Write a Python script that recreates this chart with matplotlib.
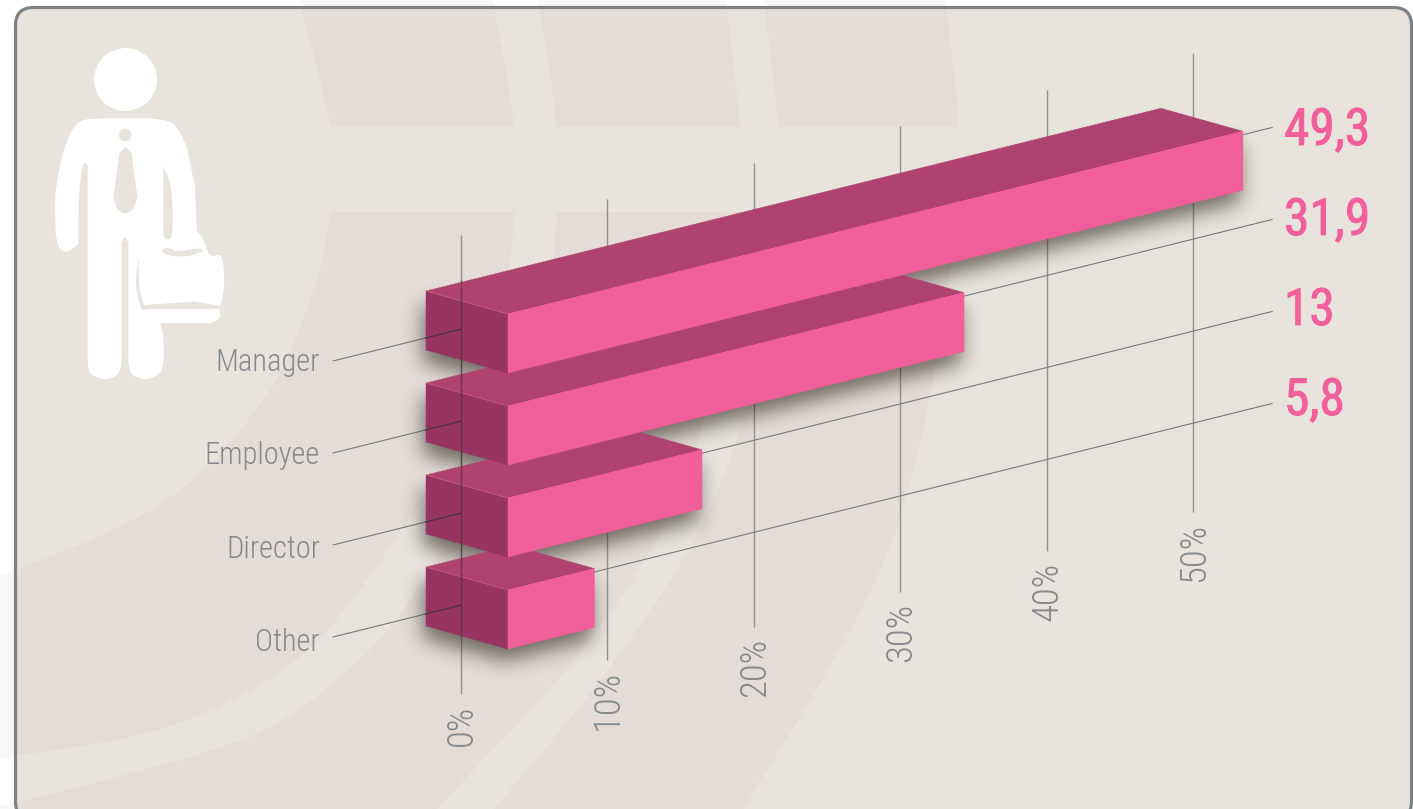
import numpy as np
import matplotlib
matplotlib.use('Agg')
import matplotlib.pyplot as plt
import matplotlib.patheffects as pe
from matplotlib import font_manager
from matplotlib.patches import Polygon, Circle, FancyBboxPatch, Rectangle
from matplotlib.path import Path

categories = ['Manager', 'Employee', 'Director', 'Other']
value_labels = ['49,3', '31,9', '13', '5,8']
# bar lengths as read against the gridlines
bar_lengths = [50.2, 31.15, 13.25, 5.9]
tick_values = [0, 10, 20, 30, 40, 50]
tick_labels = ['0%', '10%', '20%', '30%', '40%', '50%']
grid_bottoms = [694, 660, 627, 592, 551, 512]

PANEL = '#E8E3DD'
PATTERN = '#E4DDD7'
OUTER_PATTERN = '#F9F8F6'
GREY = '#85898C'
PINK = '#F2609C'
FRONT = '#F05F99'
TOP = '#B04270'
SIDE = '#97345F'

installed = {f.name for f in font_manager.fontManager.ttflist}
for name in ['Roboto Condensed', 'Archivo Narrow', 'Roboto']:
    if name in installed:
        plt.rcParams['font.family'] = [name, 'DejaVu Sans']
        break

fig = plt.figure(figsize=(14.13, 8.09), dpi=100, facecolor='white')
ax = fig.add_axes([0, 0, 1, 1])


# oblique projection: pct along the bar, row down the chart,
# depth 0 front/1 back, drop 0 top/1 bottom of the bar
def project(pct, row, depth=0.0, drop=0.0):
    x = 508 + 14.64 * pct - 82 * depth
    y = 314 - 3.64 * pct + 92 * row - 23 * depth + 59 * drop
    return x, y


def smooth(points, n=14, run=120):
    # catmull-rom through the control points, only for the background and icon
    p = [np.array(points[0], dtype=float)]
    for q in points[1:]:
        q = np.array(q, dtype=float)
        # long straight runs get extra points so the corners do not overshoot
        if np.hypot(*(q - p[-1])) > run:
            a = p[-1]
            p += [a + (q - a) * 0.1, a + (q - a) * 0.9]
        p.append(q)
    p = np.array(p)
    p = np.vstack([p[0], p, p[-1]])
    out = []
    for i in range(1, len(p) - 2):
        for t in np.linspace(0, 1, n, endpoint=False):
            out.append(0.5 * (2 * p[i] + (p[i + 1] - p[i - 1]) * t
                              + (2 * p[i - 1] - 5 * p[i] + 4 * p[i + 1] - p[i + 2]) * t ** 2
                              + (3 * p[i] - p[i - 1] - 3 * p[i + 1] + p[i + 2]) * t ** 3))
    out.append(p[-1])
    return np.array(out)


def curve(points):
    return smooth(points, run=1e9)


# background sphere pattern
sphere_left = [(298, -5), (330, 127), (330, 212), (310, 300), (263, 400), (167, 500), (17, 570), (-30, 580)]
sphere_right = [(945, -5), (959, 127), (959, 212), (895, 533), (744, 809), (725, 840)]
stripe_a_1 = [(492, -5), (514, 127), (514, 212), (505, 290), (470, 420), (400, 533), (300, 657), (167, 727),
              (17, 755), (-30, 758)]
stripe_a_2 = [(537, -5), (557, 127), (557, 212), (547, 300), (510, 430), (410, 600), (333, 683), (233, 743),
              (17, 802), (-30, 810)]
stripe_b_1 = [(725, -5), (740, 127), (740, 212), (725, 340), (670, 513), (574, 660), (436, 809), (405, 840)]
stripe_b_2 = [(763, -5), (778, 127), (778, 212), (765, 340), (708, 513), (610, 667), (494, 809), (465, 840)]


def draw_pattern(dark, light, clip=None):
    shapes = [Polygon(np.vstack([curve(sphere_left), [(-30, 840)], curve(sphere_right)[::-1]]), fc=dark, ec='none')]
    for a, b in [(stripe_a_1, stripe_a_2), (stripe_b_1, stripe_b_2)]:
        shapes.append(Polygon(np.vstack([curve(a), curve(b)[::-1]]), fc=light, ec='none'))
    shapes.append(Rectangle((0, 127), 1413, 85, fc=light, ec='none'))
    for s in shapes:
        ax.add_patch(s)
        s.set_zorder(1 if clip is None else 3)
        if clip is not None:
            s.set_clip_path(clip)


draw_pattern(OUTER_PATTERN, 'white')
panel = FancyBboxPatch((15.5, 7.5), 1396, 812, boxstyle='round,pad=0,rounding_size=18',
                       fc=PANEL, ec='none', zorder=2)
ax.add_patch(panel)
draw_pattern(PATTERN, PANEL, clip=panel)
# nearly invisible fill: agg bends an unfilled curve that runs off the canvas
ax.add_patch(FancyBboxPatch((15.5, 7.5), 1396, 812, boxstyle='round,pad=0,rounding_size=18',
                            fc=(1, 1, 1, 0.001), ec='#7E8285', lw=2.3, zorder=4))

# person icon, traced at 3x
body = [(300, 355), (235, 368), (195, 440), (172, 540), (165, 620), (172, 730), (200, 755), (235, 730), (236, 600),
        (247, 500), (263, 498), (263, 1080), (272, 1120), (315, 1137), (355, 1120), (365, 1080), (365, 730), (375, 712),
        (385, 730), (385, 1080), (395, 1120), (435, 1137), (478, 1120), (490, 1080), (490, 1010), (482, 970), (630, 970),
        (658, 955), (660, 925), (672, 860), (665, 772), (630, 765), (610, 720), (590, 690), (585, 560), (560, 440),
        (520, 372), (450, 355), (300, 355)]
tie = [(376, 441), (395, 460), (412, 590), (400, 625), (376, 640), (352, 625), (340, 590), (358, 460), (376, 441)]
arm_gap = [(490, 500), (510, 550), (517, 620), (516, 700), (503, 718), (490, 705), (490, 500)]
handle_gap = [(490, 745), (510, 745), (530, 753), (575, 748), (600, 746), (607, 754), (565, 768), (520, 768), (490, 758),
              (490, 745)]
case_gap = [(416, 775), (408, 850), (425, 927), (660, 927), (660, 918), (580, 905), (432, 915), (418, 860), (416, 775)]

ax.add_patch(Circle((125.5, 79.5), 31.5, fc='white', ec='none', zorder=5))
ax.add_patch(Polygon(smooth(body) / 3, fc='white', ec='none', zorder=5))
for gap in [tie, arm_gap, handle_gap, case_gap]:
    ax.add_patch(Polygon(smooth(gap) / 3, fc=PANEL, ec='none', zorder=6))
ax.add_patch(Circle((125.3, 135), 6.3, fc=PANEL, ec='none', zorder=6))

# gridlines and category lines run through the middle of the bars
MID_DEPTH = 0.573
MID_DROP = 0.48
for tv, tl, bottom in zip(tick_values, tick_labels, grid_bottoms):
    x1, y1 = project(tv, -1.02, MID_DEPTH, MID_DROP)
    ax.plot([x1, x1], [y1, bottom], color='#8F9090', lw=1, solid_capstyle='butt', zorder=7)
    if tv == 0:
        # this one sits over the bars
        xa, ya = project(tv, -0.53, MID_DEPTH, MID_DROP)
        xb, yb = project(tv, 3.32, MID_DEPTH, MID_DROP)
        ax.plot([xa, xb], [ya, yb], color='#3C3438', lw=1, alpha=0.55, solid_capstyle='butt', zorder=12)
    ax.text(x1 + 1, bottom + 11, tl, rotation=90, ha='center', va='top', color=GREY, fontsize=26.5, fontweight=300, zorder=13)

for i, cat in enumerate(categories):
    x1, y1 = project(-8.74, i, MID_DEPTH, MID_DROP)
    x2, y2 = project(55.4, i, MID_DEPTH, MID_DROP)
    xa, ya = project(-2.39, i, MID_DEPTH, MID_DROP)
    xb, yb = project(0, i, MID_DEPTH, MID_DROP)
    ax.plot([x1, x2], [y1, y2], color='#77797A', lw=0.8, zorder=7)
    ax.plot([xa, xb], [ya, yb], color='#3C3438', lw=0.8, zorder=12)
    ax.text(320, 371 + 93.3 * i, cat, ha='right', va='baseline', color=GREY, fontsize=22, fontweight=300, zorder=13)
    ax.text(1284, 145 + 90 * i, value_labels[i], ha='left', va='baseline', color=PINK, fontsize=37, zorder=13,
            path_effects=[pe.withStroke(linewidth=0.7, foreground=PINK)])

# soft shadows under the bars
yy, xx = np.mgrid[0:809, 0:1413]
grid = np.column_stack([xx.ravel() + 0.5, yy.ravel() + 0.5])
kernel = np.exp(-0.5 * (np.arange(-35, 36) / 10.0) ** 2)
kernel /= kernel.sum()
shadow = np.zeros(xx.shape)
for i, length in enumerate(bar_lengths):
    outline = [project(0, i, 1, 0), project(0, i, 0, 0), project(length, i, 0, 0),
               project(length, i, 0, 1), project(0, i, 0, 1), project(0, i, 1, 1)]
    outline = [(x - 3, y + 12) for x, y in outline]
    mask = Path(outline + [outline[0]]).contains_points(grid).reshape(xx.shape).astype(float)
    mask = np.apply_along_axis(lambda r: np.convolve(r, kernel, mode='same'), 0, mask)
    mask = np.apply_along_axis(lambda r: np.convolve(r, kernel, mode='same'), 1, mask)
    shadow = np.maximum(shadow, mask)
rgba = np.zeros(xx.shape + (4,))
rgba[..., :3] = (0.17, 0.14, 0.12)
rgba[..., 3] = shadow * 0.62
ax.imshow(rgba, extent=(0, 1413, 809, 0), aspect='auto', interpolation='bilinear', zorder=8)

# bars, back row first so that each one overlaps the one below it
for i in reversed(range(len(bar_lengths))):
    length = bar_lengths[i]
    z = 9 + 0.1 * (len(bar_lengths) - i)
    ax.add_patch(Polygon([project(0, i, 1, 0), project(0, i, 0, 0), project(length, i, 0, 0), project(length, i, 1, 0)],
                         fc=TOP, ec=TOP, lw=0.3, zorder=z))
    ax.add_patch(Polygon([project(0, i, 1, 0), project(0, i, 0, 0), project(0, i, 0, 1), project(0, i, 1, 1)],
                         fc=SIDE, ec=SIDE, lw=0.3, zorder=z))
    ax.add_patch(Polygon([project(0, i, 0, 0), project(length, i, 0, 0), project(length, i, 0, 1), project(0, i, 0, 1)],
                         fc=FRONT, ec=FRONT, lw=0.3, zorder=z))
    xs, ys = zip(project(0, i, 1, 0), project(0, i, 0, 0))
    ax.plot(xs, ys, color='#D06A95', lw=0.4, zorder=z)

ax.set_xlim(0, 1413)
ax.set_ylim(809, 0)
ax.axis('off')

fig.savefig('out.png', dpi=100, facecolor='white')
